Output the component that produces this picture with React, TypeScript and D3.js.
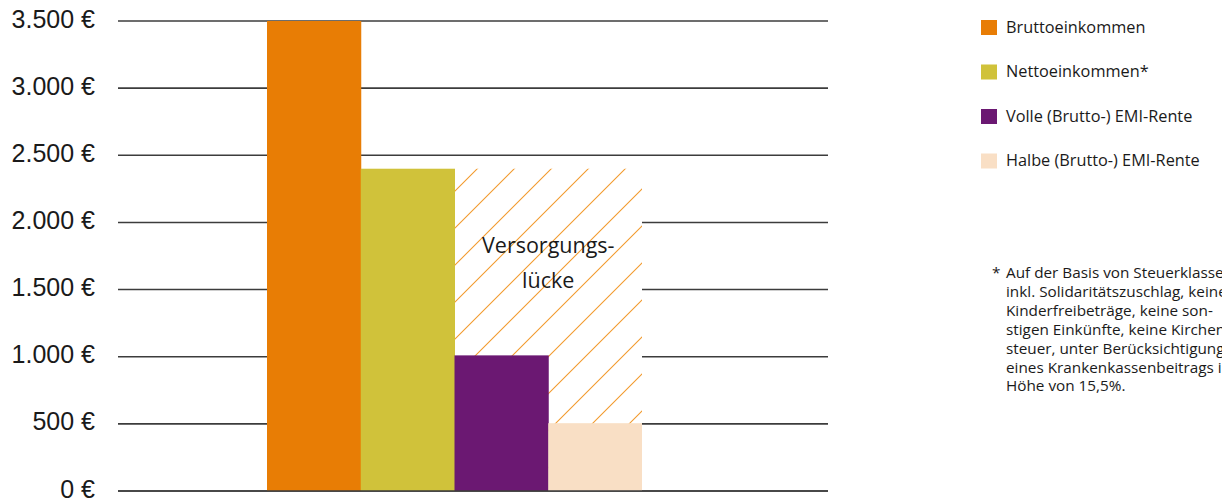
import React from "react";
import * as d3 from "d3";

const categories = ["Bruttoeinkommen", "Nettoeinkommen*", "Volle (Brutto-) EMI-Rente", "Halbe (Brutto-) EMI-Rente"];
const values = [3500, 2400, 1010, 505];
const colors = ["#E87D05", "#D0C23A", "#6B1872", "#F9DFC5"];
const yTicks = [0, 500, 1000, 1500, 2000, 2500, 3000, 3500];
const gapLabel = ["Versorgungs-", "lücke"];
const footnoteLines = [
  "Auf der Basis von Steuerklasse I,",
  "inkl. Solidaritätszuschlag, keine",
  "Kinderfreibeträge, keine son-",
  "stigen Einkünfte, keine Kirchen-",
  "steuer, unter Berücksichtigung",
  "eines Krankenkassenbeitrags in",
  "Höhe von 15,5%.",
];

const W = 1222;
const H = 499;
const FONT = "'Open Sans', Lato, sans-serif";
const AXIS_FONT = "'Liberation Sans', Arial, sans-serif";

export default function App() {
  const y = d3.scaleLinear().domain([0, 3500]).range([491, 21]);
  const x = d3.scaleBand<string>().domain(categories).range([267, 642]).padding(0);
  const fmt = (v: number) => d3.format(",")(v).replace(/,/g, ".") + " €";

  const gapX0 = x(categories[2])!;
  const gapX1 = x(categories[3])! + x.bandwidth();
  const gapTop = y(values[1]);

  return (
    <svg width={W} height={H} style={{ position: "absolute", left: 0, top: 0, background: "#fff" }}>
      <defs>
        <pattern id="hatch" patternUnits="userSpaceOnUse" x={17} y={0} width={37} height={37}>
          <path d="M0,37 L37,0 M-5,5 L5,-5 M32,42 L42,32" stroke="#F29A2E" strokeWidth={1.1} fill="none" />
        </pattern>
      </defs>
      {yTicks.map((t) => (
        <line key={t} x1={118} x2={828} y1={y(t)} y2={y(t)} stroke="#3c3c3c" strokeWidth={1.6} />
      ))}
      {yTicks.map((t) => (
        <text key={"l" + t} x={95} y={y(t) + 6.5} textAnchor="end" fontFamily={AXIS_FONT} fontSize={25} fill="#1a1a1a">
          {fmt(t)}
        </text>
      ))}
      <rect x={gapX0} y={gapTop} width={gapX1 - gapX0} height={y(0) - gapTop} fill="#fff" />
      <rect x={gapX0} y={gapTop} width={gapX1 - gapX0} height={y(0) - gapTop} fill="url(#hatch)" />
      {categories.map((c, i) => (
        <rect key={c} x={x(c)!} y={y(values[i])} width={x.bandwidth() + (i < 3 ? 0.5 : 0)} height={y(0) - y(values[i])} fill={colors[i]} />
      ))}
      <line x1={118} x2={828} y1={y(0)} y2={y(0)} stroke="#3c3c3c" strokeWidth={1.6} />
      {gapLabel.map((s, i) => (
        <text key={s} x={(gapX0 + gapX1) / 2} y={253 + i * 35} textAnchor="middle" fontFamily={FONT} fontSize={21.5} fill="#1a1a1a">
          {s}
        </text>
      ))}
      {categories.map((c, i) => (
        <g key={"lg" + c} transform={`translate(981, ${20 + i * 44.5})`}>
          <rect x={0} y={0} width={16} height={15} fill={colors[i]} />
          <text x={25} y={12.5} fontFamily={FONT} fontSize={16.3} fill="#1a1a1a">
            {c}
          </text>
        </g>
      ))}
      <text x={992} y={278} fontFamily={FONT} fontSize={15.3} fill="#1a1a1a">*</text>
      {footnoteLines.map((s, i) => (
        <text key={"f" + i} x={1006} y={278 + i * 18.9} fontFamily={FONT} fontSize={15.3} fill="#1a1a1a">
          {s}
        </text>
      ))}
    </svg>
  );
}
